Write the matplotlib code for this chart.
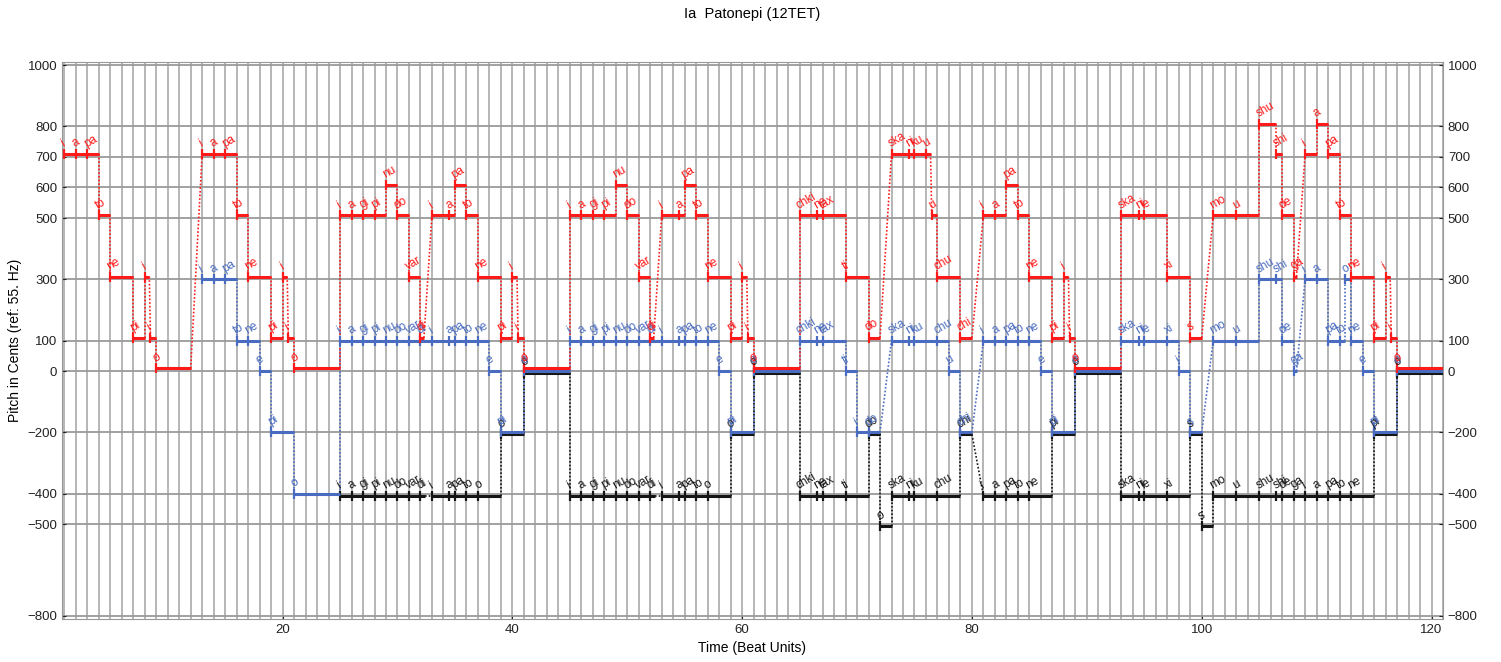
import numpy as np
import matplotlib.pyplot as plt

plt.rcParams['font.family'] = ['Liberation Sans', 'DejaVu Sans']

# ── voice 1 (red) : onset / offset in beats, pitch in cents, syllable ──
red_on = [1, 2, 3, 4, 5, 7, 8, 8.5, 9,
          13, 14, 15, 16, 17, 19, 20, 20.5, 21,
          25, 26, 27, 28, 29, 30, 31, 32, 33, 34.5, 35, 36, 37, 39, 40, 40.5, 41,
          45, 46, 47, 48, 49, 50, 51, 52, 53, 54.5, 55, 56, 57, 59, 60, 60.5, 61,
          65, 66.5, 67, 69, 71, 73, 74.5, 75, 76, 76.5, 77, 79,
          81, 82, 83, 84, 85, 87, 88, 88.5, 89, 93, 94.5, 95, 97, 99,
          101, 103, 105, 106.5, 107, 108, 109, 110, 111, 112, 113, 115, 116, 116.5, 117]
red_off = [2, 3, 4, 5, 7, 8, 8.4, 9, 12,
           14, 15, 16, 17, 19, 20, 20.4, 21, 25,
           26, 27, 28, 29, 30, 31, 32, 32.3, 34.5, 35, 36, 37, 39, 40, 40.4, 41, 45,
           46, 47, 48, 49, 50, 51, 52, 52.3, 54.5, 55, 56, 57, 59, 60, 60.4, 61, 65,
           66.5, 67, 69, 71, 72, 74.5, 75, 76, 76.4, 77, 79, 80,
           82, 83, 84, 85, 87, 88, 88.4, 89, 93, 94.5, 95, 97, 99, 100,
           103, 105, 106.5, 107, 108, 108.25, 110, 111, 112, 113, 115, 116, 116.4, 117, 121]
red_cents = [700, 700, 700, 500, 300, 100, 300, 100, 0,
             700, 700, 700, 500, 300, 100, 300, 100, 0,
             500, 500, 500, 500, 600, 500, 300, 100, 500, 500, 600, 500, 300, 100, 300, 100, 0,
             500, 500, 500, 500, 600, 500, 300, 100, 500, 500, 600, 500, 300, 100, 300, 100, 0,
             500, 500, 500, 300, 100, 700, 700, 700, 700, 500, 300, 100,
             500, 500, 600, 500, 300, 100, 300, 100, 0, 500, 500, 500, 300, 100,
             500, 500, 800, 700, 500, 300, 700, 800, 700, 500, 300, 100, 300, 100, 0]
red_syl = ['i', 'a', 'pa', 'to', 'ne', 'pi', 'i', 'i', 'o',
           'i', 'a', 'pa', 'to', 'ne', 'pi', 'i', 'i', 'o',
           'i', 'a', 'gi', 'pi', 'nu', 'do', 'var', 'di', 'i', 'a', 'pa', 'to', 'ne', 'pi', 'i', 'i', 'o',
           'i', 'a', 'gi', 'pi', 'nu', 'do', 'var', 'di', 'i', 'a', 'pa', 'to', 'ne', 'pi', 'i', 'i', 'o',
           'chki', 'ne', 'tax', 'ti', 'do', 'ska', 'ni', 'ku', 'u', 'u', 'chu', 'chi',
           'i', 'a', 'pa', 'to', 'ne', 'pi', 'i', 'i', 'o', 'ska', 'ni', 'le', 'xi', 's',
           'mo', 'u', 'shu', 'shi', 'de', 'ga', 'i', 'a', 'pa', 'to', 'ne', 'pi', 'i', 'i', 'o']

# ── voice 2 (blue) ──
blue_on = [13, 14, 15, 16, 17, 18, 19, 21,
           25, 26, 27, 28, 29, 30, 31, 32, 33, 34.5, 35, 36, 37, 38, 39, 41,
           45, 46, 47, 48, 49, 50, 51, 52, 53, 54.5, 55, 56, 57, 58, 59, 61,
           65, 66.5, 67, 69, 70, 71, 73, 74.5, 75, 77, 78, 79,
           81, 82, 83, 84, 85, 86, 87, 89, 93, 94.5, 95, 97, 98, 99,
           101, 103, 105, 106.5, 107, 108, 109, 110, 111, 112, 112.5, 113, 114, 115, 117]
blue_off = [14, 15, 16, 17, 18, 19, 21, 25,
            26, 27, 28, 29, 30, 31, 32, 33, 34.5, 35, 36, 37, 38, 39, 41, 45,
            46, 47, 48, 49, 50, 51, 52, 53, 54.5, 55, 56, 57, 58, 59, 61, 65,
            66.5, 67, 69, 70, 71, 72, 74.5, 75, 77, 78, 79, 80,
            82, 83, 84, 85, 86, 87, 89, 93, 94.5, 95, 97, 98, 99, 100,
            103, 105, 106.5, 107, 108, 108.25, 110, 111, 112, 112.5, 113, 114, 115, 117, 121]
blue_cents = [300, 300, 300, 100, 100, 0, -200, -400,
              100, 100, 100, 100, 100, 100, 100, 100, 100, 100, 100, 100, 100, 0, -200, 0,
              100, 100, 100, 100, 100, 100, 100, 100, 100, 100, 100, 100, 100, 0, -200, 0,
              100, 100, 100, 0, -200, -200, 100, 100, 100, 100, 0, -200,
              100, 100, 100, 100, 100, 0, -200, 0, 100, 100, 100, 100, 0, -200,
              100, 100, 300, 300, 100, 0, 300, 300, 100, 100, 300, 100, 0, -200, 0]
blue_syl = ['i', 'a', 'pa', 'to', 'ne', 'e', 'pi', 'o',
            'i', 'a', 'gi', 'pi', 'nu', 'do', 'var', 'di', 'i', 'a', 'pa', 'to', 'ne', 'e', 'pi', 'o',
            'i', 'a', 'gi', 'pi', 'nu', 'do', 'var', 'di', 'i', 'a', 'pa', 'to', 'ne', 'e', 'pi', 'o',
            'chki', 'ne', 'tax', 'ti', 'i', 'do', 'ska', 'ni', 'ku', 'chu', 'u', 'chi',
            'i', 'a', 'pa', 'to', 'ne', 'e', 'pi', 'o', 'ska', 'ni', 'le', 'xi', 'i', 's',
            'mo', 'u', 'shu', 'shi', 'de', 'ga', 'i', 'a', 'pa', 'to', 'o', 'ne', 'e', 'pi', 'o']

# ── voice 3 (black) ──
black_on = [25, 26, 27, 28, 29, 30, 31, 32, 33, 34.5, 35, 36, 37, 39, 41,
            45, 46, 47, 48, 49, 50, 51, 52, 53, 54.5, 55, 56, 57, 59, 61,
            65, 66.5, 67, 69, 71, 72, 73, 74.5, 75, 77, 79,
            81, 82, 83, 84, 85, 87, 89, 93, 94.5, 95, 97, 99, 100,
            101, 103, 105, 106.5, 107, 108, 109, 110, 111, 112, 113, 115, 117]
black_off = [26, 27, 28, 29, 30, 31, 32, 32.4, 34.5, 35, 36, 37, 39, 41, 45,
             46, 47, 48, 49, 50, 51, 52, 52.4, 54.5, 55, 56, 57, 59, 61, 65,
             66.5, 67, 69, 71, 72, 73, 74.5, 75, 77, 79, 80,
             82, 83, 84, 85, 87, 89, 93, 94.5, 95, 97, 99, 100, 101,
             103, 105, 106.5, 107, 108, 109, 110, 111, 112, 113, 115, 117, 121]
black_cents = [-400, -400, -400, -400, -400, -400, -400, -400, -400, -400, -400, -400, -400, -200, 0,
               -400, -400, -400, -400, -400, -400, -400, -400, -400, -400, -400, -400, -400, -200, 0,
               -400, -400, -400, -400, -200, -500, -400, -400, -400, -400, -200,
               -400, -400, -400, -400, -400, -200, 0, -400, -400, -400, -400, -200, -500,
               -400, -400, -400, -400, -400, -400, -400, -400, -400, -400, -400, -200, 0]
black_syl = ['i', 'a', 'gi', 'pi', 'nu', 'do', 'var', 'di', 'i', 'a', 'pa', 'to', 'o', 'o', 'o',
             'i', 'a', 'gi', 'pi', 'nu', 'do', 'var', 'di', 'i', 'a', 'pa', 'to', 'o', 'o', 'o',
             'chki', 'ne', 'tax', 'ti', 'do', 'o', 'ska', 'ni', 'ku', 'chu', 'chi',
             'i', 'a', 'pa', 'to', 'ne', 'pi', 'o', 'ska', 'ni', 'le', 'xi', 's', 's',
             'mo', 'u', 'shu', 'shi', 'de', 'ga', 'i', 'a', 'pa', 'to', 'ne', 'pi', 'o']

y_ticks = [-800, -500, -400, -200, 0, 100, 300, 500, 600, 700, 800, 1000]
x_ticks = [20, 40, 60, 80, 100, 120]

# ── figure ──
fig = plt.figure(figsize=(15.01, 6.62), dpi=100)
ax = fig.add_axes([62/1501, 43/662, 1381/1501, 557/662])

voices = [(black_on, black_off, black_cents, black_syl, '#151515', -7),
          (blue_on, blue_off, blue_cents, blue_syl, '#4a6cc0', 0),
          (red_on, red_off, red_cents, red_syl, '#ff1a1a', 9)]

for on, off, cents, syl, col, dy in voices:
    y = np.array(cents, float) + dy      # small shift so unisons stay visible
    ax.hlines(y, on, off, color=col, lw=2.2, zorder=3)
    ax.plot(on, y, ls='none', marker='|', ms=7, mew=1.6, color=col, zorder=3)
    for i in range(len(on) - 1):
        ax.plot([off[i], on[i+1]], [y[i], y[i+1]], ls=(0, (1, 1.2)), lw=1.2,
                color=col, zorder=2)
    for x0, y0, s in zip(on, y, syl):
        ax.annotate(s, (x0, y0), xytext=(0.5, 3), textcoords='offset points',
                    rotation=30, rotation_mode='anchor', ha='left', va='bottom',
                    fontsize=8.5, color=col, zorder=4)

ax.set_xlim(0.8, 120.7)
ax.set_ylim(-810, 1010)
ax.set_xticks(x_ticks)
ax.set_xticks(np.arange(1, 122), minor=True)
ax.set_yticks(y_ticks)
ax.grid(True, which='both', axis='x', color='#b0b0b0', lw=1.3, zorder=0)
ax.grid(True, which='major', axis='y', color='#9a9a9a', lw=1.3, zorder=0)
ax.set_axisbelow(True)
ax.tick_params(which='major', direction='in', length=3, labelsize=9.5,
               right=True, labelright=True, colors='#222222')
ax.tick_params(which='minor', length=0)
for sp in ax.spines.values():
    sp.set_color('#999999')

ax.set_title('Ia  Patonepi (12TET)', fontsize=10.5, pad=32)
ax.set_xlabel('Time (Beat Units)', fontsize=10, labelpad=4)
ax.set_ylabel('Pitch in Cents (ref: 55. Hz)', fontsize=10, labelpad=4)

fig.savefig('out.png', dpi=100)
